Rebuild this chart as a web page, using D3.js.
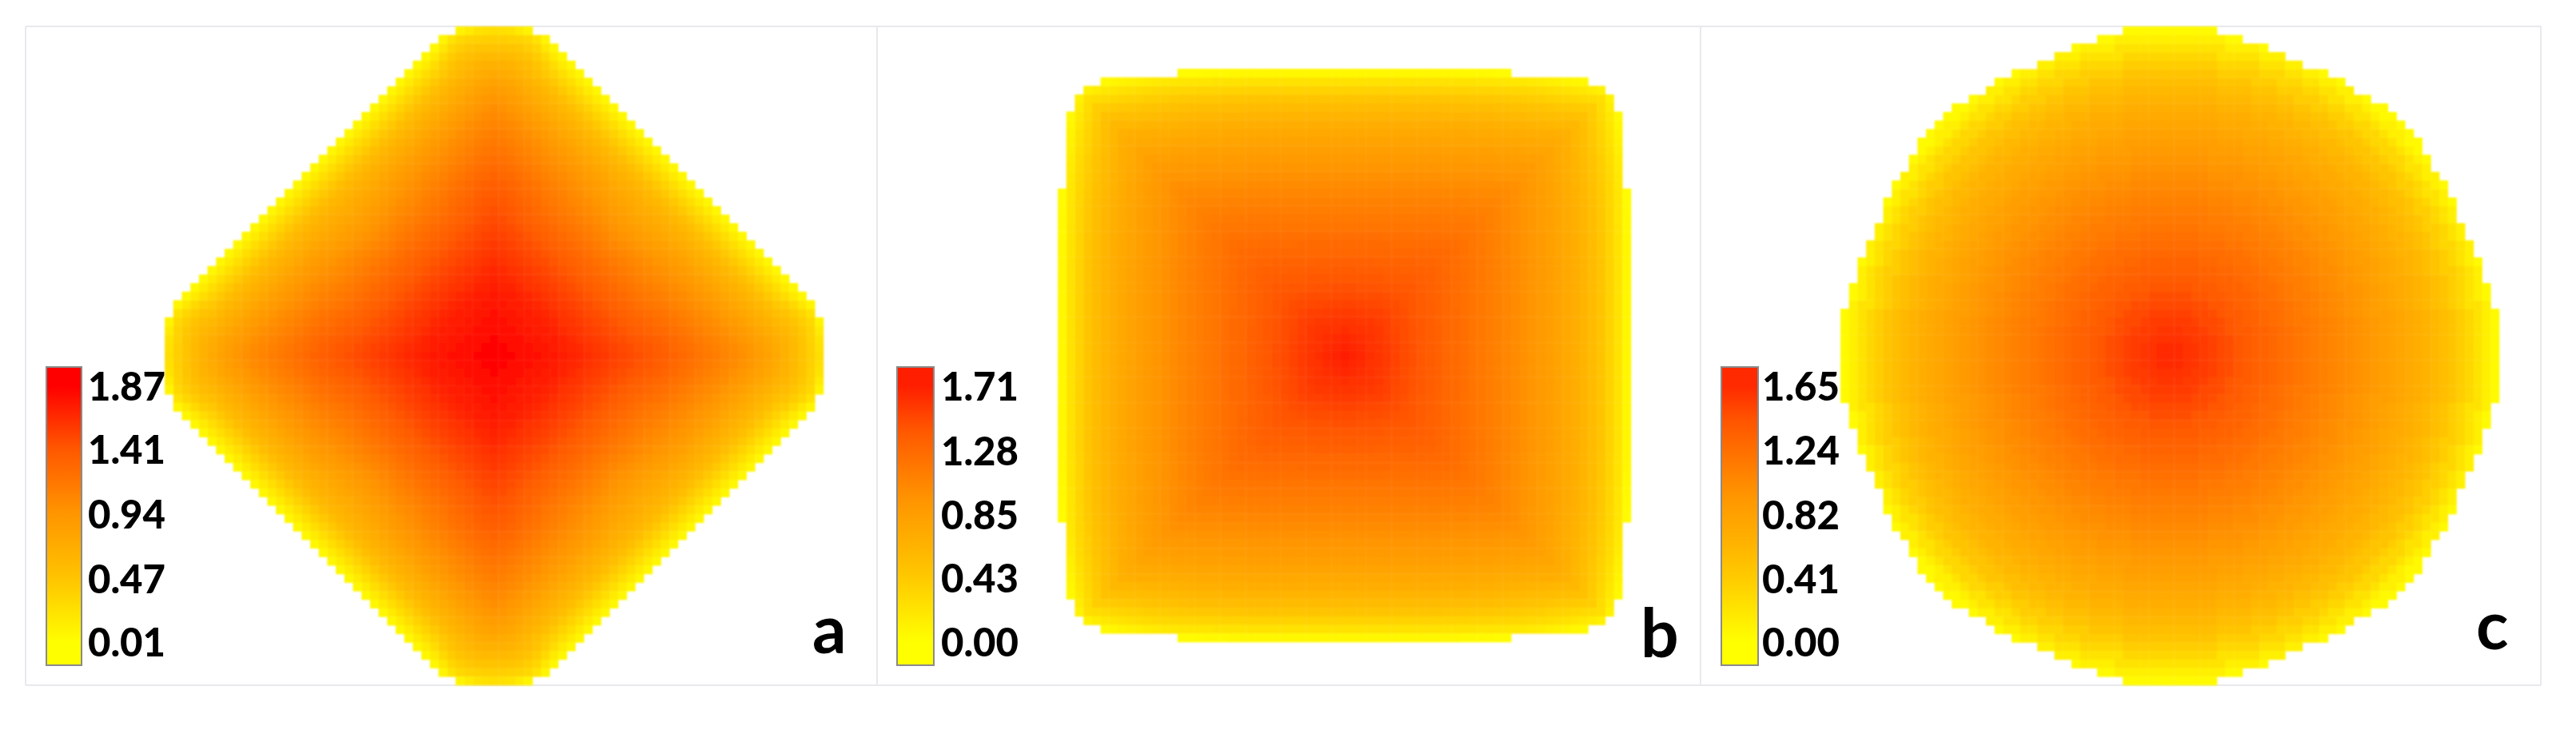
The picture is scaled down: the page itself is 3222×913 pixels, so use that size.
<!DOCTYPE html>
<html>
<head>
<meta charset="utf-8">
<script src="https://cdn.jsdelivr.net/npm/d3@7"></script>
<style>
  html, body { margin: 0; background: #fff; }
  svg { display: block; }
</style>
</head>
<body>
<script>
// colour stops shared by the three maps (value -> green channel)
var colorValues = [0, 0.47, 0.94, 1.41, 1.87];
var colorRange = ["#ffff00", "#ffc400", "#ff9600", "#ff5800", "#ff0000"];

var panelLetters = ["a", "b", "c"];
var aTicks = ["1.87", "1.41", "0.94", "0.47", "0.01"];
var bTicks = ["1.71", "1.28", "0.85", "0.43", "0.00"];
var cTicks = ["1.65", "1.24", "0.82", "0.41", "0.00"];

// panel a, one octant, hundredths. row = cells out from centre, entry = cells off the axis
var aOctant = [
[187],
[186,184],
[184,183,181],
[182,181,179,177],
[180,179,177,175,173],
[178,177,175,173,171,169],
[176,175,173,171,169,166,163],
[174,173,171,169,166,163,160,157],
[172,170,168,165,162,159,156,153,150],
[169,167,165,162,159,156,153,150,147,143],
[166,164,162,159,156,153,150,147,143,139,135],
[163,161,158,155,152,149,146,143,139,135,131,127],
[160,158,155,152,149,146,143,139,135,131,127,123,118],
[157,155,152,149,146,143,139,135,131,127,123,119,114,109],
[154,152,149,146,143,139,135,131,127,123,119,115,110,105,100],
[151,149,146,143,139,135,131,127,123,119,115,111,106,101,96,91],
[148,146,143,139,135,131,127,123,119,115,111,107,102,97,92,88,83],
[145,143,140,136,132,128,123,119,115,111,107,103,98,93,88,84,79,73],
[142,140,137,133,129,125,120,116,112,107,103,99,94,89,84,79,75,70,63],
[139,137,134,130,126,122,117,113,109,104,100,95,90,85,80,75,70,65,60,52],
[136,134,131,127,123,119,114,110,106,101,97,92,87,82,76,71,66,60,53,44,35],
[132,130,127,123,119,115,110,106,102,97,93,88,83,77,71,66,60,53,44,35,26,16],
[128,126,123,119,115,111,106,102,98,93,89,84,78,72,66,60,53,44,35,26,16,6],
[124,122,119,115,111,107,102,98,94,89,84,78,72,66,60,53,44,35,26,16,6],
[120,118,115,111,107,103,98,94,89,84,78,72,66,60,53,44,35,26,16,6],
[116,114,111,107,103,99,94,89,84,78,72,66,60,53,44,35,26,16,6],
[112,110,107,103,99,94,89,84,78,72,66,60,53,44,35,26,16,6],
[108,106,103,99,94,89,84,78,72,66,60,53,44,35,26,16,6],
[104,102,98,94,89,84,78,72,66,60,53,44,35,26,16,6],
[99,97,93,89,84,78,72,66,60,53,44,35,26,16,6],
[94,92,88,84,78,72,66,60,53,44,35,26,16,6],
[88,86,83,78,72,66,60,53,44,35,26,16,6],
[82,80,77,72,66,60,53,44,35,26,16,6],
[75,73,70,65,59,52,44,35,26,16,6],
[66,66,64,60,55,48,39,27,16,6],
[58,58,56,53,48,41,30,17,6],
[48,48,47,45,40,33,19,6],
[38,38,37,35,31,22,8],
[26,25,22,16,9]
];

// panel b, same layout
var bOctant = [
[171],
[169,167],
[166,165,163],
[163,162,161,159],
[160,159,158,157,155],
[156,156,155,154,153,151],
[152,152,151,150,149,148,147],
[148,148,147,147,146,145,144,143],
[145,145,144,144,143,142,142,141,140],
[141,141,141,140,140,139,138,138,137,136],
[138,138,137,137,137,136,136,135,135,134,133],
[134,134,134,134,133,133,133,132,132,131,131,130],
[130,130,130,130,130,130,129,129,129,129,128,128,127],
[127,127,127,127,127,127,126,126,126,126,125,125,125,124],
[124,124,124,124,124,123,123,123,123,123,122,122,121,121,120],
[120,120,120,120,120,120,120,120,120,119,119,119,118,118,118,117],
[117,117,117,117,117,117,117,117,117,117,117,116,116,115,115,114,113],
[113,113,113,113,113,113,113,113,113,113,113,113,112,112,111,111,110,110],
[110,110,110,110,110,110,110,110,110,110,110,110,109,109,109,108,108,107,106],
[106,106,106,106,106,106,106,106,106,106,106,106,105,105,105,104,104,103,103,102],
[102,102,102,102,102,102,102,102,102,102,102,102,101,101,101,100,100,100,99,99,98],
[98,98,98,98,98,98,98,98,98,98,98,98,97,97,97,96,96,96,95,95,95,94],
[94,94,94,94,94,94,94,94,94,94,94,94,93,93,93,92,92,92,91,91,90,90,89],
[90,90,90,90,90,90,90,90,90,90,90,90,89,89,89,88,88,88,87,87,86,85,85,84],
[86,86,86,86,86,86,86,86,86,86,86,86,85,85,85,84,84,84,83,83,82,81,80,80,79],
[81,81,81,81,81,81,81,81,81,81,81,81,80,80,80,79,79,79,78,78,77,76,75,74,74,73],
[76,76,76,76,76,76,76,76,76,76,76,76,75,75,75,74,74,74,73,72,72,71,70,69,69,68,67],
[70,70,70,70,70,70,70,70,70,70,70,70,69,69,69,68,68,68,67,66,65,64,63,62,61,60,60,59],
[63,63,63,63,63,63,63,63,63,63,63,63,62,62,62,61,61,61,60,59,58,57,56,55,54,53,52,51,50],
[56,56,56,56,56,56,56,56,56,56,56,56,55,55,55,54,54,54,53,52,51,50,49,48,46,45,44,42,41,40],
[47,47,47,47,47,47,47,47,47,47,47,47,46,46,46,45,45,45,44,43,42,41,40,39,37,36,34,32,30,28,26],
[36,36,36,36,36,36,36,36,36,36,36,36,35,35,35,34,34,34,33,33,32,31,30,29,27,25,23,21,18,15,10],
[23,23,23,23,23,23,23,23,23,23,23,23,22,22,22,22,21,21,21,20,19,18,17,15,13,11,9,7,5],
[6,6,6,6,6,6,6,6,6,6,6,6,6,6,5,5,5,4,3,3]
];

// panel c is round: profile by ring, hundredths, and how far each row reaches
var cRings = [165,164,162,159,156,153,149,146,142,139,135,132,129,126,123,120,116,113,110,107,
  104,101,97,94,90,86,82,78,74,69,64,59,53,47,40,32,22,12,4,2];
var cRowReach = [38,38,38,38,38,38,37,37,37,36,36,36,35,35,34,34,33,33,33,32,32,31,
  30,30,29,29,28,27,26,25,23,21,20,18,15,13,11,8,5];

function fromOctant(rows) {
  var seen = new Map();
  rows.forEach(function(row, i) {
    row.forEach(function(v, j) {
      [[i,j],[i,-j],[-i,j],[-i,-j],[j,i],[j,-i],[-j,i],[-j,-i]].forEach(function(p) {
        seen.set(p[0] + "," + p[1], {col: p[0], row: p[1], value: v / 100});
      });
    });
  });
  return Array.from(seen.values());
}

function fromRings(rings, reach) {
  var out = [];
  reach.forEach(function(w, r) {
    d3.range(-w, w + 1).forEach(function(c) {
      var v = rings[Math.round(Math.hypot(c, r))] / 100;
      out.push({col: c, row: r, value: v});
      if (r > 0) out.push({col: c, row: -r, value: v});
    });
  });
  return out;
}

var panels = [
  {letter: panelLetters[0], cells: fromOctant(aOctant), half: 38, x0: 206, y0: 33, ticks: aTicks,
   barX: 58, barW: 44, axisX: 110, letterX: 1016, letterY: 817},
  {letter: panelLetters[1], cells: fromOctant(bOctant), half: 33, x0: 1323, y0: 86, ticks: bTicks,
   barX: 1122, barW: 46, axisX: 1177, letterX: 2052, letterY: 822},
  {letter: panelLetters[2], cells: fromRings(cRings, cRowReach), half: 38, x0: 2302, y0: 33, ticks: cTicks,
   barX: 2153, barW: 46, axisX: 2204, letterX: 3097, letterY: 812}
];

var cellSize = 10.7;

var heat = d3.scaleLinear().domain(colorValues).range(colorRange).clamp(true);

var svg = d3.select("body").append("svg")
  .attr("width", 3222)
  .attr("height", 913);

var defs = svg.append("defs");
defs.append("filter").attr("id", "soft")
  .attr("x", "-2%").attr("y", "-2%").attr("width", "104%").attr("height", "104%")
  .append("feGaussianBlur").attr("stdDeviation", 1.1);
defs.append("filter").attr("id", "softText")
  .append("feGaussianBlur").attr("stdDeviation", 0.6);

// light frame
var frame = svg.append("g").attr("stroke", "#e8e9ec").attr("stroke-width", 2);
frame.append("line").attr("x1", 32).attr("x2", 3178).attr("y1", 33).attr("y2", 33);
frame.append("line").attr("x1", 32).attr("x2", 3178).attr("y1", 857).attr("y2", 857);
[32, 1097, 2127, 3178].forEach(function(x) {
  frame.append("line").attr("x1", x).attr("x2", x).attr("y1", 33).attr("y2", 857);
});

panels.forEach(function(p, k) {
  var ids = d3.range(-p.half, p.half + 1);
  var span = ids.length * cellSize;
  var x = d3.scaleBand().domain(ids).range([p.x0, p.x0 + span]);
  var y = d3.scaleBand().domain(ids).range([p.y0, p.y0 + span]);

  svg.append("g")
    .attr("filter", "url(#soft)")
    .selectAll("rect")
    .data(p.cells)
    .enter()
    .append("rect")
    .attr("x", function(d) { return x(d.col); })
    .attr("y", function(d) { return y(d.row); })
    .attr("width", x.bandwidth() + 0.4)
    .attr("height", y.bandwidth() + 0.4)
    .attr("fill", function(d) { return heat(d.value); });

  // colour bar, on the same colours as the map
  var tickValues = p.ticks.map(Number);
  var barScale = d3.scaleLinear()
    .domain([tickValues[4], tickValues[0]])
    .range([803, 483]);

  var grad = defs.append("linearGradient")
    .attr("id", "bar" + k)
    .attr("gradientUnits", "userSpaceOnUse")
    .attr("x1", 0).attr("x2", 0)
    .attr("y1", barScale.range()[0]).attr("y2", barScale.range()[1]);
  d3.range(0, 17).forEach(function(s) {
    var t = s / 16;
    grad.append("stop")
      .attr("offset", t)
      .attr("stop-color", heat(barScale.invert(803 - t * 320)));
  });

  svg.append("rect")
    .attr("x", p.barX).attr("y", 459)
    .attr("width", p.barW).attr("height", 373)
    .attr("fill", "url(#bar" + k + ")")
    .attr("stroke", "#8a8a8a")
    .attr("stroke-width", 2);

  var axis = d3.axisRight(barScale)
    .tickValues(tickValues)
    .tickFormat(function(d, i) { return p.ticks[i]; })
    .tickSize(0)
    .tickPadding(0);

  var axisG = svg.append("g")
    .attr("transform", "translate(" + p.axisX + ",0)")
    .attr("filter", "url(#softText)")
    .call(axis);
  axisG.select(".domain").remove();
  axisG.selectAll("text")
    .attr("font-family", "Lato")
    .attr("font-weight", 900)
    .attr("font-size", 49)
    .attr("fill", "#000")
    .attr("dy", "0.36em");

  svg.append("text")
    .attr("x", p.letterX)
    .attr("y", p.letterY)
    .attr("filter", "url(#softText)")
    .attr("font-family", "Lato")
    .attr("font-weight", 700)
    .attr("font-size", 84)
    .attr("fill", "#000")
    .text(p.letter);
});
</script>
</body>
</html>
